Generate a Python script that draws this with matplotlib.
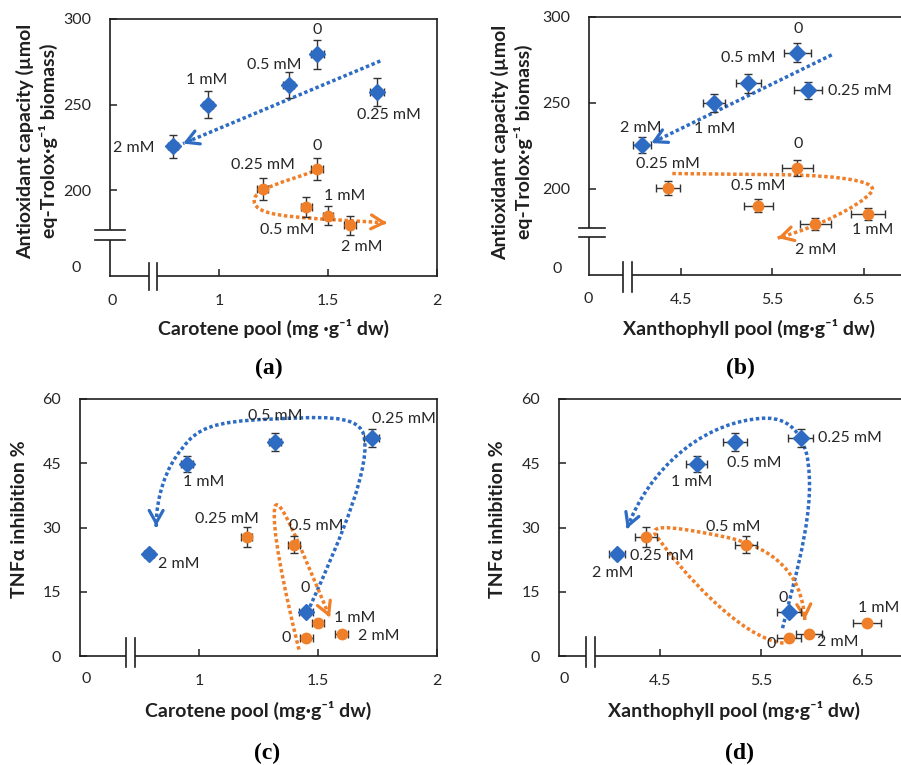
import matplotlib
matplotlib.use('Agg')
import matplotlib.pyplot as plt
from matplotlib.path import Path
from matplotlib.patches import PathPatch, Rectangle
from matplotlib.lines import Line2D
import matplotlib.transforms as mtrans

plt.rcParams['font.family'] = ['Lato', 'DejaVu Sans']

BLUE = '#2E6CC4'
ORANGE = '#F07F2A'
INK = '#1f1f1f'
TXT = '#262626'

# ---------------- data ----------------
treatments = ['0', '0.25 mM', '0.5 mM', '1 mM', '2 mM']

carotene_blue = [1.45, 1.725, 1.32, 0.95, 0.79]
carotene_orange = [1.45, 1.20, 1.40, 1.50, 1.60]
carotene_blue_err = [0.030, 0.032, 0.025, 0.024, 0.023]
carotene_orange_err = [0.027, 0.024, 0.025, 0.024, 0.027]

xanthophyll_blue = [5.775, 5.89, 5.24, 4.86, 4.075]
xanthophyll_orange = [5.775, 4.36, 5.35, 6.545, 5.97]
xanthophyll_blue_err_b = [0.15, 0.15, 0.14, 0.12, 0.10]
xanthophyll_orange_err_b = [0.17, 0.13, 0.16, 0.19, 0.17]
xanthophyll_blue_err_d = [0.12, 0.125, 0.115, 0.10, 0.077]
xanthophyll_orange_err_d = [0.12, 0.107, 0.11, 0.14, 0.13]

antiox_blue = [279.3, 257.3, 261.5, 250.0, 225.8]
antiox_orange = [212.3, 200.7, 190.4, 185.3, 179.6]
antiox_blue_err_a = [8.3, 8.0, 7.8, 7.8, 6.7]
antiox_orange_err_a = [6.3, 6.3, 6.0, 5.8, 5.6]
antiox_blue_err_b = [5.6, 5.1, 5.4, 5.0, 4.6]
antiox_orange_err_b = [4.5, 3.9, 3.6, 3.4, 3.4]

tnf_blue = [10.2, 51.0, 50.0, 44.8, 23.8]
tnf_orange = [4.2, 27.8, 26.0, 7.6, 5.2]
tnf_blue_err = [0.6, 2.1, 2.1, 1.9, 0.9]
tnf_orange_err = [0.5, 2.3, 2.0, 0.6, 0.5]

# ---------------- layout ----------------
W, H = 901, 765
fig = plt.figure(figsize=(W / 100, H / 100), dpi=100)
fig.patch.set_facecolor('white')


def px_rect(l, r, t, b):
    return [l / W, 1 - b / H, (r - l) / W, (b - t) / H]


def ftext(x, y, s, **kw):
    fig.text(x / W, 1 - y / H, s, **kw)


def make_axes(rect, xlim, ylim, xticks, yticks):
    ax = fig.add_axes(rect)
    ax.set_xlim(*xlim)
    ax.set_ylim(*ylim)
    ax.set_xticks(xticks)
    ax.set_xticklabels([f'{t:g}' for t in xticks])
    ax.set_yticks(yticks)
    ax.set_yticklabels([f'{t:g}' for t in yticks])
    ax.tick_params(direction='in', length=5, width=1.1, color=INK,
                   labelsize=11.5, labelcolor=TXT)
    ax.tick_params(axis='x', pad=13)
    ax.tick_params(axis='y', pad=13.5)
    for s in ax.spines.values():
        s.set_linewidth(1.2)
        s.set_color(INK)
    return ax


def ybreak(ax, y1, y2, xl, xr):
    tr = mtrans.blended_transform_factory(ax.transAxes, ax.transData)
    ax.add_patch(Rectangle((-0.012, y2), 0.024, y1 - y2, transform=tr,
                           facecolor='white', edgecolor='none',
                           clip_on=False, zorder=5))
    for y in (y1, y2):
        ax.add_line(Line2D([xl, xr], [y, y], transform=tr, color=INK,
                           lw=1.2, clip_on=False, zorder=6))


def xbreak(ax, x1, x2, yb, yt):
    tr = mtrans.blended_transform_factory(ax.transData, ax.transAxes)
    ax.add_patch(Rectangle((x1, -0.012), x2 - x1, 0.024, transform=tr,
                           facecolor='white', edgecolor='none',
                           clip_on=False, zorder=5))
    for x in (x1, x2):
        ax.add_line(Line2D([x, x], [yb, yt], transform=tr, color=INK,
                           lw=1.2, clip_on=False, zorder=6))


def draw_series(ax, x, y, xerr, yerr, marker, ms, color):
    ax.errorbar(x, y, xerr=xerr, yerr=yerr, fmt='none', ecolor='#333333',
                elinewidth=1.0, capsize=3, capthick=1.0, zorder=3,
                clip_on=False)
    ax.plot(x, y, ls='none', marker=marker, ms=ms, color=color,
            markeredgecolor=color, zorder=4, clip_on=False)


def draw_labels(ax, positions):
    for name, (lx, ly) in zip(treatments, positions):
        ax.text(lx, ly, name, ha='center', va='center', fontsize=11.5,
                color=TXT, zorder=7, clip_on=False)


def draw_arrow(ax, start, segs, color):
    verts = [start]
    codes = [Path.MOVETO]
    for seg in segs:
        if len(seg) == 1:
            verts.append(seg[0])
            codes.append(Path.LINETO)
        else:
            verts += list(seg)
            codes += [Path.CURVE4] * 3
    path = Path(verts, codes)
    ax.add_patch(PathPatch(path, fill=False, edgecolor=color, lw=2.5,
                           linestyle=(0, (1, 0.75)), capstyle='butt',
                           zorder=2, clip_on=False))
    end = verts[-1]
    before = verts[-2]
    tail = (end[0] + 0.04 * (before[0] - end[0]),
            end[1] + 0.04 * (before[1] - end[1]))
    ax.annotate('', xy=end, xytext=tail,
                arrowprops=dict(arrowstyle='->,head_length=0.9,head_width=0.5',
                                color=color, lw=2.3, shrinkA=0, shrinkB=0,
                                mutation_scale=10), zorder=2)


AXLAB = dict(fontsize=14, fontweight='bold', color=INK)
PANEL = dict(fontsize=17, fontweight='bold', color='black',
             family=['Liberation Serif', 'DejaVu Serif'], ha='center', va='center')
ZERO = dict(fontsize=11.5, color=TXT, ha='center', va='center')

# ---------------- panel (a) ----------------
ax = make_axes(px_rect(110, 437, 19, 276), (0.5, 2.0), (150, 300),
               [1, 1.5, 2], [200, 250, 300])
draw_arrow(ax, (1.74, 275.5), [((0.835, 227.3),)], BLUE)
draw_arrow(ax, (1.43, 211.0), [((1.34, 206), (1.13, 201), (1.165, 192)),
                               ((1.19, 184), (1.40, 184), (1.77, 181))], ORANGE)
draw_series(ax, carotene_blue, antiox_blue, carotene_blue_err,
            antiox_blue_err_a, 'D', 8.5, BLUE)
draw_series(ax, carotene_orange, antiox_orange, carotene_orange_err,
            antiox_orange_err_a, 'o', 7.5, ORANGE)
draw_labels(ax, [(1.45, 293.6), (1.78, 243.9), (1.252, 273), (0.945, 264.3), (0.61, 225)])
draw_labels(ax, [(1.45, 225.7), (1.202, 214.6), (1.313, 176.6), (1.578, 196.5), (1.657, 166.7)])
ybreak(ax, 176.6, 171.3, -0.046, 0.046)
xbreak(ax, 0.679, 0.716, -0.054, 0.05)
ftext(112, 301, '0', **ZERO)
ftext(76, 268, '0', **ZERO)
ftext(37, 141, 'Antioxidant capacity (µmol\neq-Trolox·g\u207B\u00B9 biomass)',
      rotation=90, ha='center', va='center', multialignment='center',
      linespacing=1.25, **AXLAB)
ftext(274, 328, 'Carotene pool (mg ·g\u207B\u00B9 dw)', ha='center', va='center', **AXLAB)
ftext(269, 368, '(a)', **PANEL)

# ---------------- panel (b) ----------------
ax = make_axes(px_rect(589, 909.6, 17, 275), (3.5, 7.0), (150, 300),
               [4.5, 5.5, 6.5], [200, 250, 300])
draw_arrow(ax, (6.15, 278), [((4.18, 226.7),)], BLUE)
draw_arrow(ax, (4.41, 209.0), [((5.6, 208.3),),
                               ((6.3, 207.8), (6.68, 204), (6.58, 198)),
                               ((6.45, 190), (6.0, 178), (5.56, 171.5))], ORANGE)
draw_series(ax, xanthophyll_blue, antiox_blue, xanthophyll_blue_err_b,
            antiox_blue_err_b, 'D', 8.5, BLUE)
draw_series(ax, xanthophyll_orange, antiox_orange, xanthophyll_orange_err_b,
            antiox_orange_err_b, 'o', 7.5, ORANGE)
draw_labels(ax, [(5.78, 293), (6.46, 257), (5.234, 276), (4.87, 234.9), (4.07, 235.5)])
draw_labels(ax, [(5.78, 226), (4.36, 214.5), (5.35, 201.7), (6.60, 176), (5.98, 164.5)])
ybreak(ax, 177.3, 172.1, -0.031, 0.05)
xbreak(ax, 3.872, 3.97, -0.066, 0.05)
ftext(588, 299, '0', **ZERO)
ftext(557, 269, '0', **ZERO)
ftext(512, 142, 'Antioxidant capacity (µmol\neq-Trolox·g\u207B\u00B9 biomass)',
      rotation=90, ha='center', va='center', multialignment='center',
      linespacing=1.25, **AXLAB)
ftext(749, 328, 'Xanthophyll pool (mg·g\u207B\u00B9 dw)', ha='center', va='center', **AXLAB)
ftext(740, 368, '(b)', **PANEL)

# ---------------- panel (c) ----------------
ax = make_axes(px_rect(80, 437, 399, 656), (0.5, 2.0), (0, 60),
               [1, 1.5, 2], [0, 15, 30, 45, 60])
draw_arrow(ax, (1.466, 11.5), [((1.60, 28), (1.73, 45), (1.69, 52)),
                               ((1.66, 56.5), (1.50, 55.8), (1.30, 55.3)),
                               ((1.05, 54.8), (0.99, 53), (0.93, 48.5)),
                               ((0.86, 44), (0.82, 37), (0.82, 30.3))], BLUE)
draw_arrow(ax, (1.42, 1.5), [((1.36, 15), (1.30, 31), (1.32, 35)),
                             ((1.34, 37), (1.40, 29), (1.55, 9))], ORANGE)
draw_series(ax, carotene_blue, tnf_blue, carotene_blue_err,
            tnf_blue_err, 'D', 8.5, BLUE)
draw_series(ax, carotene_orange, tnf_orange, carotene_orange_err,
            tnf_orange_err, 'o', 7.5, ORANGE)
draw_labels(ax, [(1.445, 15.9), (1.861, 55.3), (1.319, 56.0), (1.021, 40.6), (0.916, 21.5)])
draw_labels(ax, [(1.366, 4.2), (1.117, 32), (1.494, 30.4), (1.655, 8.9), (1.757, 4.7)])
xbreak(ax, 0.693, 0.731, -0.043, 0.07)
ftext(86, 679, '0', **ZERO)
ftext(20, 519, 'TNFα inhibition %', rotation=90, ha='center', va='center', **AXLAB)
ftext(258, 710, 'Carotene pool (mg·g\u207B\u00B9 dw)', ha='center', va='center', **AXLAB)
ftext(267, 753, '(c)', **PANEL)

# ---------------- panel (d) ----------------
ax = make_axes(px_rect(559, 913, 399, 656), (3.5, 7.0), (0, 60),
               [4.5, 5.5, 6.5], [0, 15, 30, 45, 60])
draw_arrow(ax, (5.71, 6.5), [((5.85, 20), (6.05, 35), (5.95, 47)),
                             ((5.85, 56), (5.6, 56), (5.4, 55.2)),
                             ((4.9, 53.5), (4.4, 44), (4.17, 29.7))], BLUE)
draw_arrow(ax, (5.72, 3.0), [((5.3, 4), (4.7, 20), (4.45, 28.5)),
                             ((4.4, 31), (4.7, 30), (5.2, 27.5)),
                             ((5.6, 25), (5.9, 20), (5.93, 8.4))], ORANGE)
draw_series(ax, xanthophyll_blue, tnf_blue, xanthophyll_blue_err_d,
            tnf_blue_err, 'D', 8.5, BLUE)
draw_series(ax, xanthophyll_orange, tnf_orange, xanthophyll_orange_err_d,
            tnf_orange_err, 'o', 7.5, ORANGE)
draw_labels(ax, [(5.72, 13.5), (6.38, 50.9), (5.43, 45.1), (4.815, 40.6), (4.03, 19.4)])
draw_labels(ax, [(5.60, 2.8), (4.52, 23.3), (5.22, 30.1), (6.66, 11.2), (6.26, 3.3)])
xbreak(ax, 3.766, 3.855, -0.043, 0.074)
ftext(564, 679, '0', **ZERO)
ftext(497, 519, 'TNFα inhibition %', rotation=90, ha='center', va='center', **AXLAB)
ftext(734, 710, 'Xanthophyll pool (mg·g\u207B\u00B9 dw)', ha='center', va='center', **AXLAB)
ftext(740, 753, '(d)', **PANEL)

fig.savefig('out.png', dpi=100, facecolor='white')
